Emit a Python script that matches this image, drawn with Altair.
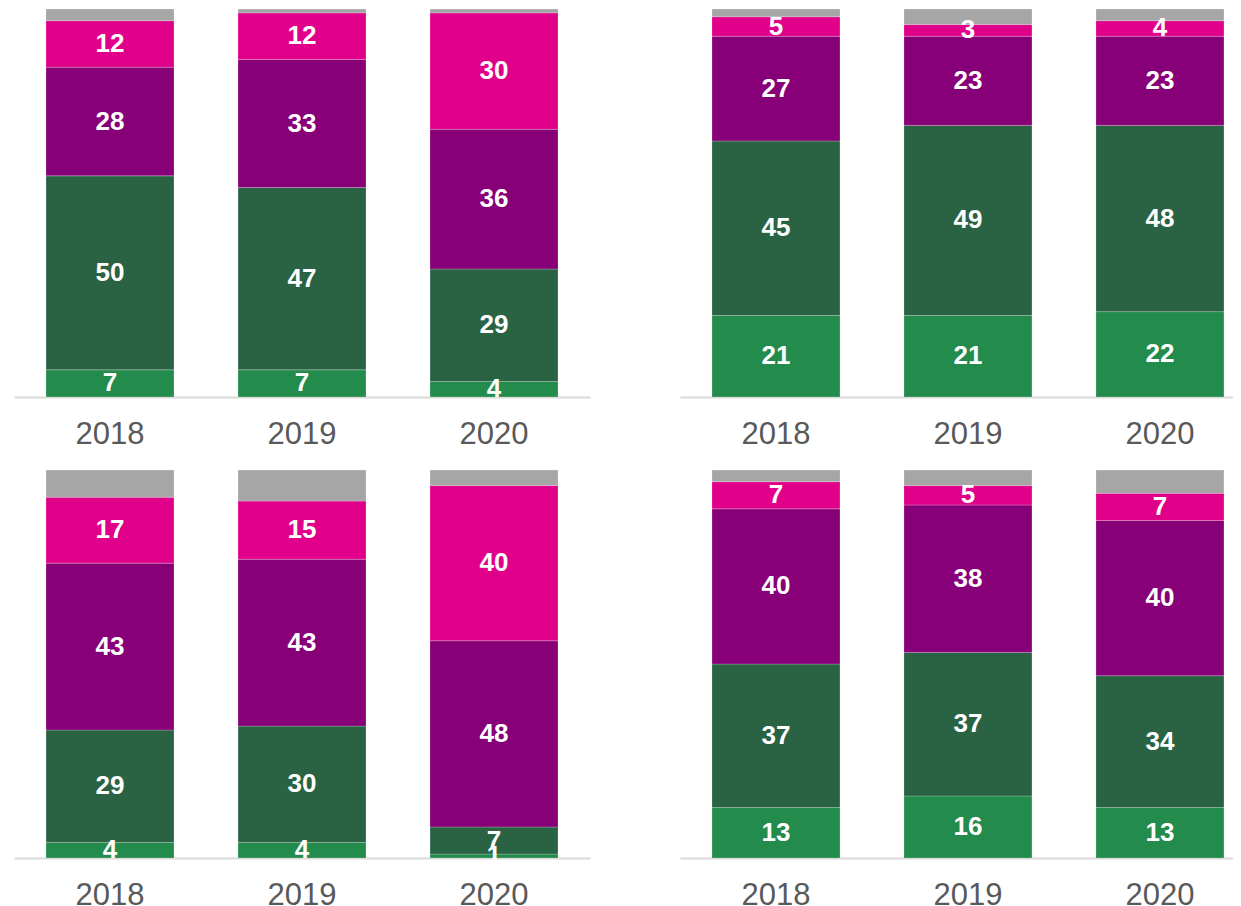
import altair as alt
import pandas as pd

years = ["2018", "2019", "2020"]
series = ["s1", "s2", "s3", "s4", "other"]  # bottom to top
colors = ["#238B4B", "#2A6343", "#870078", "#E0008A", "#A6A6A6"]

# Panel 1 (top left)
p1_s1 = [7, 7, 4]
p1_s2 = [50, 47, 29]
p1_s3 = [28, 33, 36]
p1_s4 = [12, 12, 30]
p1_other = [3, 1, 1]

# Panel 2 (top right)
p2_s1 = [21, 21, 22]
p2_s2 = [45, 49, 48]
p2_s3 = [27, 23, 23]
p2_s4 = [5, 3, 4]
p2_other = [2, 4, 3]

# Panel 3 (bottom left)
p3_s1 = [4, 4, 1]
p3_s2 = [29, 30, 7]
p3_s3 = [43, 43, 48]
p3_s4 = [17, 15, 40]
p3_other = [7, 8, 4]

# Panel 4 (bottom right)
p4_s1 = [13, 16, 13]
p4_s2 = [37, 37, 34]
p4_s3 = [40, 38, 40]
p4_s4 = [7, 5, 7]
p4_other = [3, 4, 6]

panels = {
    1: [p1_s1, p1_s2, p1_s3, p1_s4, p1_other],
    2: [p2_s1, p2_s2, p2_s3, p2_s4, p2_other],
    3: [p3_s1, p3_s2, p3_s3, p3_s4, p3_other],
    4: [p4_s1, p4_s2, p4_s3, p4_s4, p4_other],
}

rows = []
for pid, lists in panels.items():
    for si, (name, vals) in enumerate(zip(series, lists)):
        for yi, yr in enumerate(years):
            rows.append({"panel": pid, "year": yr, "series": name, "idx": si, "value": vals[yi]})
df = pd.DataFrame(rows)

FONT = "Liberation Sans, Arial, Helvetica, sans-serif"


def make_panel(pid, width, po, align):
    d = df[df.panel == pid]
    base = alt.Chart(d)
    xenc = alt.X(
        "year:N",
        sort=years,
        title=None,
        scale=alt.Scale(paddingInner=1 / 3, paddingOuter=po, align=align),
        axis=alt.Axis(labelAngle=0),
    )
    yscale = alt.Scale(domain=[0, 99.5], nice=False)
    bars = base.mark_bar(stroke="#ffffff", strokeWidth=0.6, strokeOpacity=0.35).encode(
        x=xenc,
        y=alt.Y("value:Q", stack="zero", scale=yscale, axis=None),
        color=alt.Color("series:N", scale=alt.Scale(domain=series, range=colors), legend=None),
        order=alt.Order("idx:Q", sort="ascending"),
    )
    text = (
        base.transform_window(
            cum="sum(value)",
            frame=[None, 0],
            groupby=["year"],
            sort=[alt.SortField("idx", order="ascending")],
        )
        .transform_calculate(mid="datum.cum - datum.value / 2")
        .transform_filter("datum.series != 'other'")
        .mark_text(
            color="white",
            font=FONT,
            fontSize=26,
            fontWeight="bold",
            baseline="middle",
            align="center",
        )
        .encode(
            x=xenc,
            y=alt.Y("mid:Q", scale=yscale, axis=None),
            text=alt.Text("value:Q"),
        )
    )
    return alt.layer(bars, text).properties(width=width, height=386)


LEFT_W, RIGHT_W = 576, 553
p1 = make_panel(1, LEFT_W, 1 / 6, 0.5)
p2 = make_panel(2, RIGHT_W, 0.1068, 0.78)
p3 = make_panel(3, LEFT_W, 1 / 6, 0.5)
p4 = make_panel(4, RIGHT_W, 0.1068, 0.78)

chart = (
    alt.concat(p1, p2, p3, p4, columns=2, spacing={"row": 75, "column": 90}, bounds="flush")
    .properties(padding={"left": 6, "top": 0, "right": 0, "bottom": 0}, background="white")
    .configure_view(stroke=None)
    .configure_axis(
        domainColor="#D9D9D9",
        domainWidth=2,
        ticks=False,
        grid=False,
        labelFont=FONT,
        labelFontSize=31,
        labelColor="#595959",
        labelPadding=22,
    )
)

chart.save("out.html", embed_options={"renderer": "svg", "actions": False})
